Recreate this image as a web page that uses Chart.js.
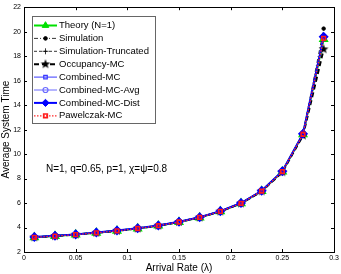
<!DOCTYPE html>
<html>
<head>
    <title>Average System Time</title>
    <script src="https://cdn.jsdelivr.net/npm/chart.js"></script>
    <style>
        html, body { margin: 0; padding: 0; background: #fff; }
        #wrap { width: 341px; height: 274px; }
    </style>
</head>
<body>
    <div id="wrap">
        <canvas id="myChart" width="341" height="274"></canvas>
    </div>

    <script>
        // arrival rates (lambda)
        const rates = [0.01, 0.03, 0.05, 0.07, 0.09, 0.11, 0.13, 0.15, 0.17, 0.19, 0.21, 0.23, 0.25, 0.27, 0.29];

        const theory      = [3.20, 3.30, 3.42, 3.57, 3.73, 3.92, 4.15, 4.45, 4.82, 5.32, 5.98, 6.98, 8.57, 11.62, 19.40];
        const simulation  = [3.21, 3.31, 3.43, 3.58, 3.74, 3.93, 4.16, 4.46, 4.83, 5.33, 6.00, 7.00, 8.60, 11.70, 20.25];
        const simTrunc    = [3.20, 3.30, 3.42, 3.57, 3.73, 3.92, 4.15, 4.45, 4.82, 5.32, 5.98, 6.98, 8.56, 11.60, 19.50];
        const occupancyMC = [3.20, 3.30, 3.42, 3.57, 3.73, 3.92, 4.15, 4.45, 4.82, 5.31, 5.97, 6.96, 8.52, 11.52, 18.56];
        const combinedMC  = [3.21, 3.31, 3.43, 3.58, 3.74, 3.93, 4.16, 4.46, 4.83, 5.33, 5.99, 7.00, 8.60, 11.66, 19.62];
        const combinedAvg = [3.21, 3.31, 3.43, 3.58, 3.74, 3.93, 4.16, 4.46, 4.83, 5.33, 5.99, 6.99, 8.58, 11.64, 19.52];
        const combinedDst = [3.22, 3.32, 3.44, 3.59, 3.75, 3.94, 4.17, 4.47, 4.84, 5.34, 6.00, 7.00, 8.60, 11.66, 19.58];
        const pawelczakMC = [3.20, 3.30, 3.42, 3.57, 3.73, 3.92, 4.15, 4.45, 4.82, 5.32, 5.98, 6.98, 8.57, 11.62, 19.45];

        const xTicks = [0, 0.05, 0.1, 0.15, 0.2, 0.25, 0.3];
        const yTicks = [2, 4, 6, 8, 10, 12, 14, 16, 18, 20, 22];

        const FONT = 'Liberation Sans, Arial, sans-serif';

        // filled five point star like matlab's pentagram marker
        function makeStar(r, color) {
            const c = document.createElement('canvas');
            c.width = c.height = r * 2 + 2;
            const g = c.getContext('2d');
            g.fillStyle = color;
            g.beginPath();
            for (let i = 0; i < 10; i++) {
                const rad = i % 2 === 0 ? r : r * 0.42;
                const a = -Math.PI / 2 + i * Math.PI / 5;
                const px = r + 1 + rad * Math.cos(a);
                const py = r + 1 + rad * Math.sin(a);
                if (i === 0) g.moveTo(px, py); else g.lineTo(px, py);
            }
            g.closePath();
            g.fill();
            return c;
        }
        const starImg = makeStar(5, '#000');

        function pts(arr) {
            return arr.map((v, i) => ({ x: rates[i], y: v }));
        }

        const datasets = [
            { label: 'Theory (N=1)', data: pts(theory), borderColor: '#00e000', borderWidth: 2,
              pointStyle: 'triangle', pointRadius: 3.8, pointBackgroundColor: '#00e000', pointBorderColor: '#00e000' },
            { label: 'Simulation', data: pts(simulation), borderColor: '#000', borderWidth: 0.8, borderDash: [4, 2, 1, 2],
              pointStyle: 'circle', pointRadius: 1.8, pointBackgroundColor: '#000', pointBorderColor: '#000' },
            { label: 'Simulation-Truncated', data: pts(simTrunc), borderColor: '#000', borderWidth: 0.8, borderDash: [3, 2],
              pointStyle: 'cross', pointRadius: 3, pointBorderColor: '#000', pointBorderWidth: 0.8 },
            { label: 'Occupancy-MC', data: pts(occupancyMC), borderColor: '#000', borderWidth: 2, borderDash: [5, 3],
              pointStyle: starImg, pointRadius: 5 },
            { label: 'Combined-MC', data: pts(combinedMC), borderColor: '#3a3aff', borderWidth: 1,
              pointStyle: 'rect', pointRadius: 2.5, pointBackgroundColor: 'rgba(0,0,0,0)', pointBorderColor: '#3a3aff', pointBorderWidth: 1.2 },
            { label: 'Combined-MC-Avg', data: pts(combinedAvg), borderColor: '#6a6aff', borderWidth: 1,
              pointStyle: 'circle', pointRadius: 2.5, pointBackgroundColor: 'rgba(0,0,0,0)', pointBorderColor: '#6a6aff', pointBorderWidth: 1.2 },
            { label: 'Combined-MC-Dist', data: pts(combinedDst), borderColor: '#0000ff', borderWidth: 2,
              pointStyle: 'rectRot', pointRadius: 3.6, pointBackgroundColor: '#0000ff', pointBorderColor: '#0000ff' },
            { label: 'Pawelczak-MC', data: pts(pawelczakMC), borderColor: '#ff2a2a', borderWidth: 1.3, borderDash: [1.5, 1.5],
              pointStyle: 'rect', pointRadius: 2.6, pointBackgroundColor: 'rgba(0,0,0,0)', pointBorderColor: '#ff1a1a', pointBorderWidth: 1.6 }
        ].map((d, i, all) => Object.assign({ fill: false, tension: 0, pointHoverRadius: d.pointRadius, order: all.length - i }, d));

        // matlab style frame with inward ticks, legend box and the note
        const decorations = {
            id: 'decorations',
            afterDatasetsDraw(chart) {
                const ctx = chart.ctx;
                const a = chart.chartArea;
                const xs = chart.scales.x, ys = chart.scales.y;
                ctx.save();
                ctx.strokeStyle = '#000';
                ctx.lineWidth = 1;
                ctx.beginPath();
                xTicks.forEach(t => {
                    const px = Math.round(xs.getPixelForValue(t)) + 0.5;
                    ctx.moveTo(px, a.bottom); ctx.lineTo(px, a.bottom - 3);
                    ctx.moveTo(px, a.top); ctx.lineTo(px, a.top + 3);
                });
                yTicks.forEach(t => {
                    const py = Math.round(ys.getPixelForValue(t)) + 0.5;
                    ctx.moveTo(a.left, py); ctx.lineTo(a.left + 3, py);
                    ctx.moveTo(a.right, py); ctx.lineTo(a.right - 3, py);
                });
                ctx.stroke();
                ctx.strokeRect(Math.round(a.left) + 0.5, Math.round(a.top) + 0.5,
                    Math.round(a.right - a.left), Math.round(a.bottom - a.top));

                // legend
                const lx = 32, ly = 16, lw = 123, lh = 107;
                ctx.fillStyle = '#fff';
                ctx.fillRect(lx, ly, lw, lh);
                ctx.strokeStyle = '#666';
                ctx.strokeRect(lx + 0.5, ly + 0.5, lw, lh);
                ctx.font = '9.5px ' + FONT;
                ctx.textBaseline = 'middle';
                chart.data.datasets.forEach((d, i) => {
                    const cy = ly + 9.5 + i * 12.9;
                    ctx.save();
                    ctx.strokeStyle = d.borderColor;
                    ctx.lineWidth = d.borderWidth;
                    ctx.setLineDash(d.borderDash || []);
                    ctx.beginPath();
                    ctx.moveTo(lx + 2, cy); ctx.lineTo(lx + 25, cy);
                    ctx.stroke();
                    ctx.setLineDash([]);
                    ctx.fillStyle = d.pointBackgroundColor || '#000';
                    ctx.strokeStyle = d.pointBorderColor || d.borderColor;
                    ctx.lineWidth = d.pointBorderWidth || 1;
                    Chart.helpers.drawPoint(ctx, { pointStyle: d.pointStyle, radius: d.pointRadius, rotation: 0, borderWidth: ctx.lineWidth }, lx + 13.5, cy);
                    ctx.restore();
                    ctx.fillStyle = '#000';
                    ctx.fillText(d.label, lx + 27, cy);
                });

                ctx.font = '10px ' + FONT;
                ctx.fillStyle = '#000';
                ctx.fillText('N=1, q=0.65, p=1, \u03c7=\u03c8=0.8', 46, 169);
                ctx.restore();
            }
        };

        const ctx = document.getElementById('myChart').getContext('2d');
        window.myChart = new Chart(ctx, {
            type: 'line',
            data: { datasets: datasets },
            options: {
                responsive: false,
                animation: false,
                events: [],
                layout: { padding: { top: 6, right: 5, left: 0, bottom: 0 } },
                plugins: { legend: { display: false }, tooltip: { enabled: false } },
                scales: {
                    x: {
                        type: 'linear', min: 0, max: 0.3,
                        afterBuildTicks: s => { s.ticks = xTicks.map(v => ({ value: v })); },
                        afterFit: s => { s.height = 22; },
                        grid: { display: false, drawTicks: false, tickLength: 0 },
                        border: { display: false },
                        ticks: { font: { family: FONT, size: 7 }, color: '#000', padding: 2, maxRotation: 0, autoSkip: false,
                                 callback: v => String(v) },
                        title: { display: true, text: 'Arrival Rate (\u03bb)', font: { family: FONT, size: 10 }, color: '#000', padding: 0 }
                    },
                    y: {
                        type: 'linear', min: 2, max: 22,
                        afterBuildTicks: s => { s.ticks = yTicks.map(v => ({ value: v })); },
                        afterFit: s => { s.width = 24; },
                        grid: { display: false, drawTicks: false, tickLength: 0 },
                        border: { display: false },
                        ticks: { font: { family: FONT, size: 7 }, color: '#000', padding: 3, autoSkip: false },
                        title: { display: true, text: 'Average System Time', font: { family: FONT, size: 10 }, color: '#000', padding: 0 }
                    }
                }
            },
            plugins: [decorations]
        });
    </script>
</body>
</html>
